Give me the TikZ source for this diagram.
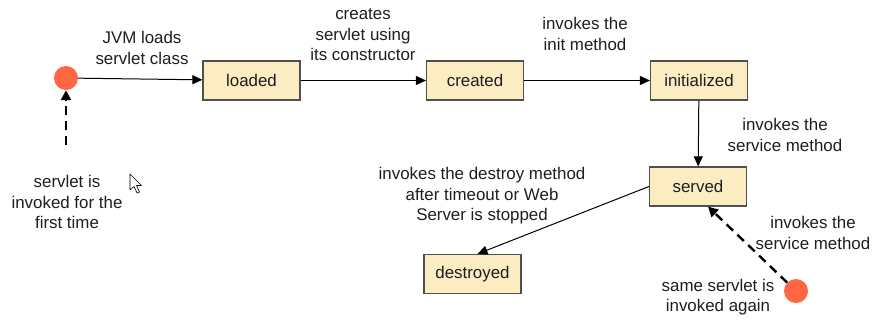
\documentclass[tikz,border=0pt]{standalone}
\usepackage{fontspec}
\setmainfont{Liberation Sans}
\usetikzlibrary{arrows.meta}
\definecolor{boxfill}{RGB}{252,236,194}
\definecolor{boxdraw}{RGB}{80,80,80}
\definecolor{dotfill}{RGB}{255,102,66}
\definecolor{txt}{RGB}{30,30,30}
\tikzset{
  state/.style={draw=boxdraw, line width=1.2pt, fill=boxfill, minimum width=97pt, minimum height=39pt, inner sep=0pt, font=\fontsize{16.9}{20.5}\selectfont, text=txt},
  dot/.style={circle, fill=dotfill, minimum size=24pt, inner sep=0pt},
  lbl/.style={align=center, inner sep=0pt, font=\fontsize{16.9}{20.5}\selectfont, text=txt},
  flow/.style={-{Triangle[length=10pt,width=9pt]}, line width=1pt, draw=black},
  trigger/.style={-{Triangle[length=10pt,width=10pt]}, line width=2.4pt, dash pattern=on 9pt off 6pt, draw=black}
}
\begin{document}
\begin{tikzpicture}[x=1pt,y=-1pt]
\useasboundingbox (0,0) rectangle (874,322);
% nodes
\node[dot] (c1) at (66,78) {};
\node[state] (loaded) at (251.5,80.5) {loaded};
\node[state] (created) at (475,80.5) {created};
\node[state] (init) at (699,80.5) {initialized};
\node[state] (served) at (698,186.5) {served};
\node[state] (destroyed) at (472.5,274) {destroyed};
\node[dot] (c2) at (796,291) {};
\coordinate (s1) at (66,145);
% labels
\node[lbl] (l1) at (142,48) {JVM loads\\servlet class};
\node[lbl] (l2) at (363,35) {creates\\servlet using\\its constructor};
\node[lbl] (l3) at (585,34) {invokes the\\init method};
\node[lbl] (l4) at (785,135) {invokes the\\service method};
\node[lbl] (l5) at (67,202) {servlet is\\invoked for the\\first time};
\node[lbl] (l6) at (482,196) {invokes the destroy method\\after timeout or Web\\Server is stopped};
\node[lbl] (l7) at (813,233) {invokes the\\service method};
\node[lbl] (l8) at (718,297) {same servlet is\\invoked again};
% connectors
\draw[flow] (c1) -- (loaded);
\draw[flow] (loaded) -- (created);
\draw[flow] (created) -- (init);
\draw[flow] (init) -- (served);
\draw[flow] (served.west) -- ([xshift=5pt]destroyed.north);
\draw[trigger] (s1) -- (c1.south);
\draw[trigger] (c2) -- ([xshift=10pt]served.south);
% mouse cursor
\draw[line width=0.6pt, fill=white, line join=round]
  (130,174) -- (130,190) -- (134,186.5) -- (137,193) -- (139.5,192) -- (136.5,185.5) -- (141.5,185.5) -- cycle;
\end{tikzpicture}
\end{document}
